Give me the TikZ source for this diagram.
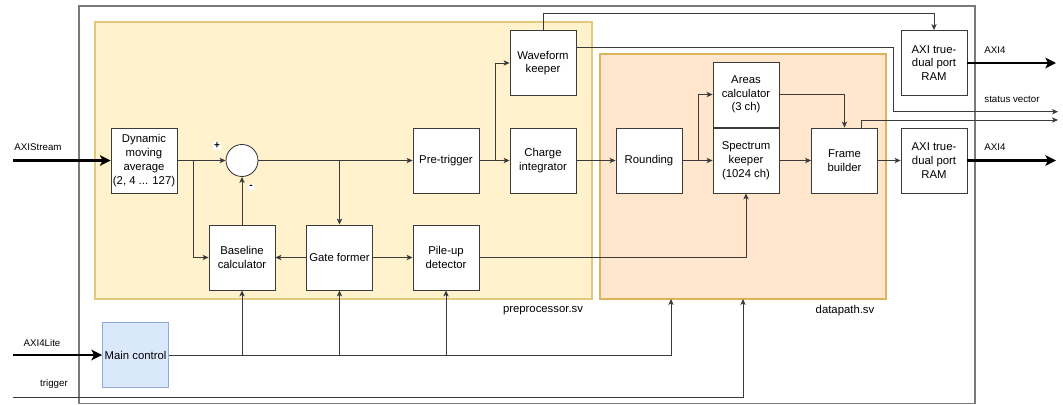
\documentclass[tikz,border=0pt]{standalone}
\usepackage{fontspec}
\setmainfont{Liberation Sans}
\usetikzlibrary{arrows.meta}
\definecolor{ppfill}{HTML}{FFF2CC}
\definecolor{ppline}{HTML}{E3C97A}
\definecolor{dpfill}{HTML}{FFE6CC}
\definecolor{dpline}{HTML}{DDB45A}
\definecolor{mcfill}{HTML}{DAE8FC}
\definecolor{mcline}{HTML}{8FAAD6}
\definecolor{wirec}{HTML}{3A3A3A}
\definecolor{framec}{HTML}{7A7A7A}
\begin{document}
\begin{tikzpicture}[x=0.75pt,y=-0.75pt,
  blk/.style={draw=wirec, line width=0.65pt, fill=white, minimum width=49.5pt,
    minimum height=48.75pt, inner sep=0pt, align=center,
    font=\fontsize{8.5}{10.3}\selectfont},
  ctrl/.style={blk, draw=mcline, fill=mcfill},
  conn/.style={draw=wirec, line width=0.7pt,
    -{Stealth[length=4.5pt,width=4pt,inset=1.2pt]}},
  bus/.style={draw=black, line width=2.2pt,
    -{Stealth[length=8pt,width=8pt,inset=2pt]}},
  lbl/.style={font=\fontsize{7.3}{9}\selectfont, inner sep=0pt},
  sign/.style={font=\fontsize{7.5}{9}\selectfont\bfseries, fill=white, inner sep=1pt},
  modname/.style={font=\fontsize{8.5}{10}\selectfont, inner sep=0pt},
]
\useasboundingbox (0,0) rectangle (1063,404);

% enclosing top level and the two sub-modules
\draw[framec, line width=1.1pt] (79,6) rectangle (975,403.5);
\filldraw[fill=ppfill, draw=ppline, line width=0.9pt] (95,22) rectangle (592,299);
\filldraw[fill=dpfill, draw=dpline, line width=0.9pt] (600,54) rectangle (886,299);
\node[modname] (ppname) at (543,311) {preprocessor.sv};
\node[modname] (dpname) at (845,311) {datapath.sv};

% free connector ends
\coordinate (inS) at (13,160.5);
\coordinate (inL) at (13,355);
\coordinate (trg) at (13,397);
\coordinate (o1) at (1056,63);
\coordinate (o2) at (1056,160.5);
\coordinate (sv1) at (1058,111.7);
\coordinate (sv2) at (1058,120);
\coordinate (dpc1) at (671,299);
\coordinate (dpc2) at (743,299);

% blocks
\node[blk] (dma) at (144,160.5) {Dynamic\\moving\\average\\(2, 4 ... 127)};
\node[draw=wirec, line width=0.65pt, fill=white, circle, minimum size=24pt, inner sep=0pt] (sum) at (242,160.5) {};
\node[blk] (base) at (242,257.5) {Baseline\\calculator};
\node[blk] (gate) at (339.5,257.5) {Gate former};
\node[blk] (pile) at (446,257.5) {Pile-up\\detector};
\node[blk] (pre) at (446,160.5) {Pre-trigger};
\node[blk] (charge) at (543,160.5) {Charge\\integrator};
\node[blk] (wave) at (543,63) {Waveform\\keeper};
\node[blk] (round) at (649,160.5) {Rounding};
\node[blk] (areas) at (746,94.5) {Areas\\calculator\\(3 ch)};
\node[blk] (spec) at (746,160.5) {Spectrum\\keeper\\(1024 ch)};
\node[blk] (frame) at (844.5,160.5) {Frame\\builder};
\node[blk] (ram1) at (934,63) {AXI true-\\dual port\\RAM};
\node[blk] (ram2) at (934,160.5) {AXI true-\\dual port\\RAM};
\node[ctrl] (main) at (135.5,355) {Main control};

% external port labels
\node[lbl] (lS) at (38,147) {AXIStream};
\node[lbl] (lL) at (42,343) {AXI4Lite};
\node[lbl] (lT) at (54,384) {trigger};
\node[lbl] (lA1) at (995,50) {AXI4};
\node[lbl] (lA2) at (995,147) {AXI4};
\node[lbl] (lSV) at (1012,99) {status vector};

% signal path
\draw[conn] (dma.east) -- (sum.west);
\node[sign] (plus) at (217,146) {+};
\draw[conn] (base.north) -- (sum.south);
\node[sign] (minus) at (251,187) {-};
\draw[conn] (dma.east) ++(16,0) |- (base.west);
\draw[conn] (sum.east) -- (pre.west);
\draw[conn] (gate.north |- sum.east) -- (gate.north);
\draw[conn] (gate.west) -- (base.east);
\draw[conn] (gate.east) -- (pile.west);
\draw[conn] (pile.east) -| (spec.south);
\draw[conn] (pre.east) -- (charge.west);
\draw[conn] (pre.east) ++(16,0) |- (wave.west);
\draw[conn] (charge.east) -- (round.west);
\draw[conn] (round.east) -- (spec.west);
\draw[conn] (round.east) ++(16,0) |- (areas.west);
\draw[conn] (areas.east) -| (frame.north);
\draw[conn] (spec.east) -- (frame.west);
\draw[conn] (frame.east) -- (ram2.west);
\draw[conn] (wave.north) -- ++(0,-16.6) -| (ram1.north);
\draw[conn] ([yshift=12pt]wave.east) -| (893,111.7) -- (sv1);
\draw[conn] ([xshift=12.4pt]frame.north) |- (sv2);

% external buses
\draw[bus] (inS) -- (dma.west);
\draw[bus] (inL) -- (main.west);
\draw[bus] (ram1.east) -- (o1);
\draw[bus] (ram2.east) -- (o2);

% control and trigger distribution
\draw[conn] (main.east) -| (dpc1);
\draw[conn] (base.south |- main.east) -- (base.south);
\draw[conn] (gate.south |- main.east) -- (gate.south);
\draw[conn] (pile.south |- main.east) -- (pile.south);
\draw[conn] (trg) -| (dpc2);
\end{tikzpicture}
\end{document}
